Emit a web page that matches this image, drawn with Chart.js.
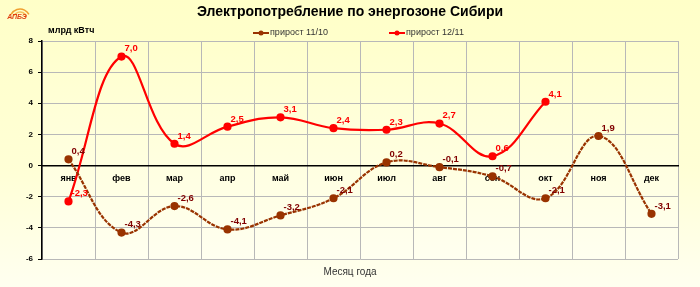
<!DOCTYPE html>
<html>
<head>
<meta charset="utf-8">
<script src="https://cdn.jsdelivr.net/npm/chart.js@4"></script>
<style>
  html, body { margin: 0; padding: 0; }
  body { width: 700px; height: 287px; background: linear-gradient(to bottom, #ffffc8 0%, #ffffd6 60%, #fffff0 100%); }
  #wrap { width: 700px; height: 287px; position: relative; }
</style>
</head>
<body>
<div id="wrap"><canvas id="powerChart" width="700" height="287"></canvas></div>
<script>
// months on the x axis
var months = ['янв', 'фев', 'мар', 'апр', 'май', 'июн', 'июл', 'авг', 'сен', 'окт', 'ноя', 'дек'];
// growth, bn kWh
var growth1110 = [0.4, -4.3, -2.6, -4.1, -3.2, -2.1, 0.2, -0.1, -0.7, -2.1, 1.9, -3.1];
var growth1211 = [-2.3, 7.0, 1.4, 2.5, 3.1, 2.4, 2.3, 2.7, 0.6, 4.1, null, null];
var seriesNames = ['прирост 11/10', 'прирост 12/11'];
var yTicks = [-6, -4, -2, 0, 2, 4, 6, 8];

var FONT = 'Liberation Sans, Arial, sans-serif';
var colors = ['#993300', '#ff0000'];
var labelColors = ['#800000', '#ff0000'];

// background of the plot area
var plotBg = {
    id: 'plotBg',
    beforeDraw: function(chart) {
        var a = chart.chartArea, c = chart.ctx;
        var g = c.createLinearGradient(0, a.top, 0, a.bottom);
        g.addColorStop(0, '#ffffcc');
        g.addColorStop(1, '#fffff0');
        c.save();
        c.fillStyle = g;
        c.fillRect(a.left, a.top, a.right - a.left, a.bottom - a.top);
        c.restore();
    }
};

// title, unit, legend, axis title, logo, data labels
var extras = {
    id: 'extras',
    afterDatasetsDraw: function(chart) {
        var c = chart.ctx;
        c.save();
        c.font = 'bold 9.5px ' + FONT;
        c.textAlign = 'left';
        c.textBaseline = 'bottom';
        chart.data.datasets.forEach(function(ds, i) {
            var meta = chart.getDatasetMeta(i);
            c.fillStyle = labelColors[i];
            meta.data.forEach(function(pt, j) {
                var v = ds.data[j];
                if (v === null || v === undefined) return;
                c.fillText(v.toFixed(1).replace('.', ','), pt.x + 3, pt.y - 3);
            });
        });
        c.restore();
    },
    afterDraw: function(chart) {
        var c = chart.ctx;
        c.save();
        c.fillStyle = '#000';
        c.textAlign = 'center';
        c.textBaseline = 'middle';
        c.font = 'bold 14px ' + FONT;
        c.fillText('Электропотребление по энергозоне Сибири', 350, 12);

        c.textAlign = 'left';
        c.font = 'bold 9px ' + FONT;
        c.fillText('млрд кВтч', 48, 31);

        // legend
        var lx = [253, 389];
        c.font = '9px ' + FONT;
        chart.data.datasets.forEach(function(ds, i) {
            var x = lx[i], y = 33;
            c.strokeStyle = colors[i];
            c.lineWidth = 2;
            c.beginPath(); c.moveTo(x, y); c.lineTo(x + 16, y); c.stroke();
            c.fillStyle = colors[i];
            c.beginPath(); c.arc(x + 8, y, 2.5, 0, Math.PI * 2); c.fill();
            c.fillStyle = '#333';
            c.fillText(ds.label, x + 17, y);
        });

        c.textAlign = 'center';
        c.font = '10px ' + FONT;
        c.fillStyle = '#333';
        c.fillText('Месяц года', 350, 272);

        // small logo
        c.strokeStyle = '#f0a030';
        c.lineWidth = 1.5;
        c.beginPath(); c.arc(20, 19, 10, Math.PI * 1.15, Math.PI * 1.85); c.stroke();
        c.strokeStyle = '#f5c060';
        c.beginPath(); c.arc(20, 19, 7, Math.PI * 1.15, Math.PI * 1.85); c.stroke();
        c.fillStyle = '#e04010';
        c.font = 'bold italic 7px ' + FONT;
        c.fillText('АПБЭ', 17, 17);
        c.restore();
    }
};

var ctx = document.getElementById('powerChart').getContext('2d');
var chart = new Chart(ctx, {
    type: 'line',
    data: {
        labels: months,
        datasets: [{
            label: seriesNames[0],
            data: growth1110,
            borderColor: colors[0],
            backgroundColor: colors[0],
            borderWidth: 2.2,
            borderDash: [4, 1],
            pointRadius: 3,
            pointHoverRadius: 3,
            tension: 0.4
        }, {
            label: seriesNames[1],
            data: growth1211,
            borderColor: colors[1],
            backgroundColor: colors[1],
            borderWidth: 2.2,
            pointRadius: 3,
            pointHoverRadius: 3,
            tension: 0.4,
            spanGaps: false
        }]
    },
    options: {
        responsive: false,
        animation: false,
        layout: { padding: { top: 41, left: 2, right: 22, bottom: 28 } },
        plugins: {
            legend: { display: false },
            title: { display: false },
            tooltip: { enabled: false }
        },
        scales: {
            x: {
                type: 'category',
                position: { y: 0 },
                offset: true,
                grid: { color: '#b8b8b8', lineWidth: 1, drawTicks: false, offset: true },
                border: { color: '#000', width: 1.5 },
                ticks: { color: '#000', font: { family: FONT, size: 9, weight: 'bold' }, padding: 8, maxRotation: 0, autoSkip: false }
            },
            y: {
                min: -6,
                max: 8,
                afterBuildTicks: function(scale) {
                    scale.ticks = yTicks.map(function(v) { return { value: v }; });
                },
                afterFit: function(scale) { scale.width = 40; },
                grid: { color: '#b8b8b8', lineWidth: 1, tickColor: '#000', tickLength: 4 },
                border: { color: '#000', width: 1.5 },
                ticks: { color: '#000', font: { family: FONT, size: 8, weight: 'bold' }, padding: 5, autoSkip: false }
            }
        }
    },
    plugins: [plotBg, extras]
});
</script>
</body>
</html>
